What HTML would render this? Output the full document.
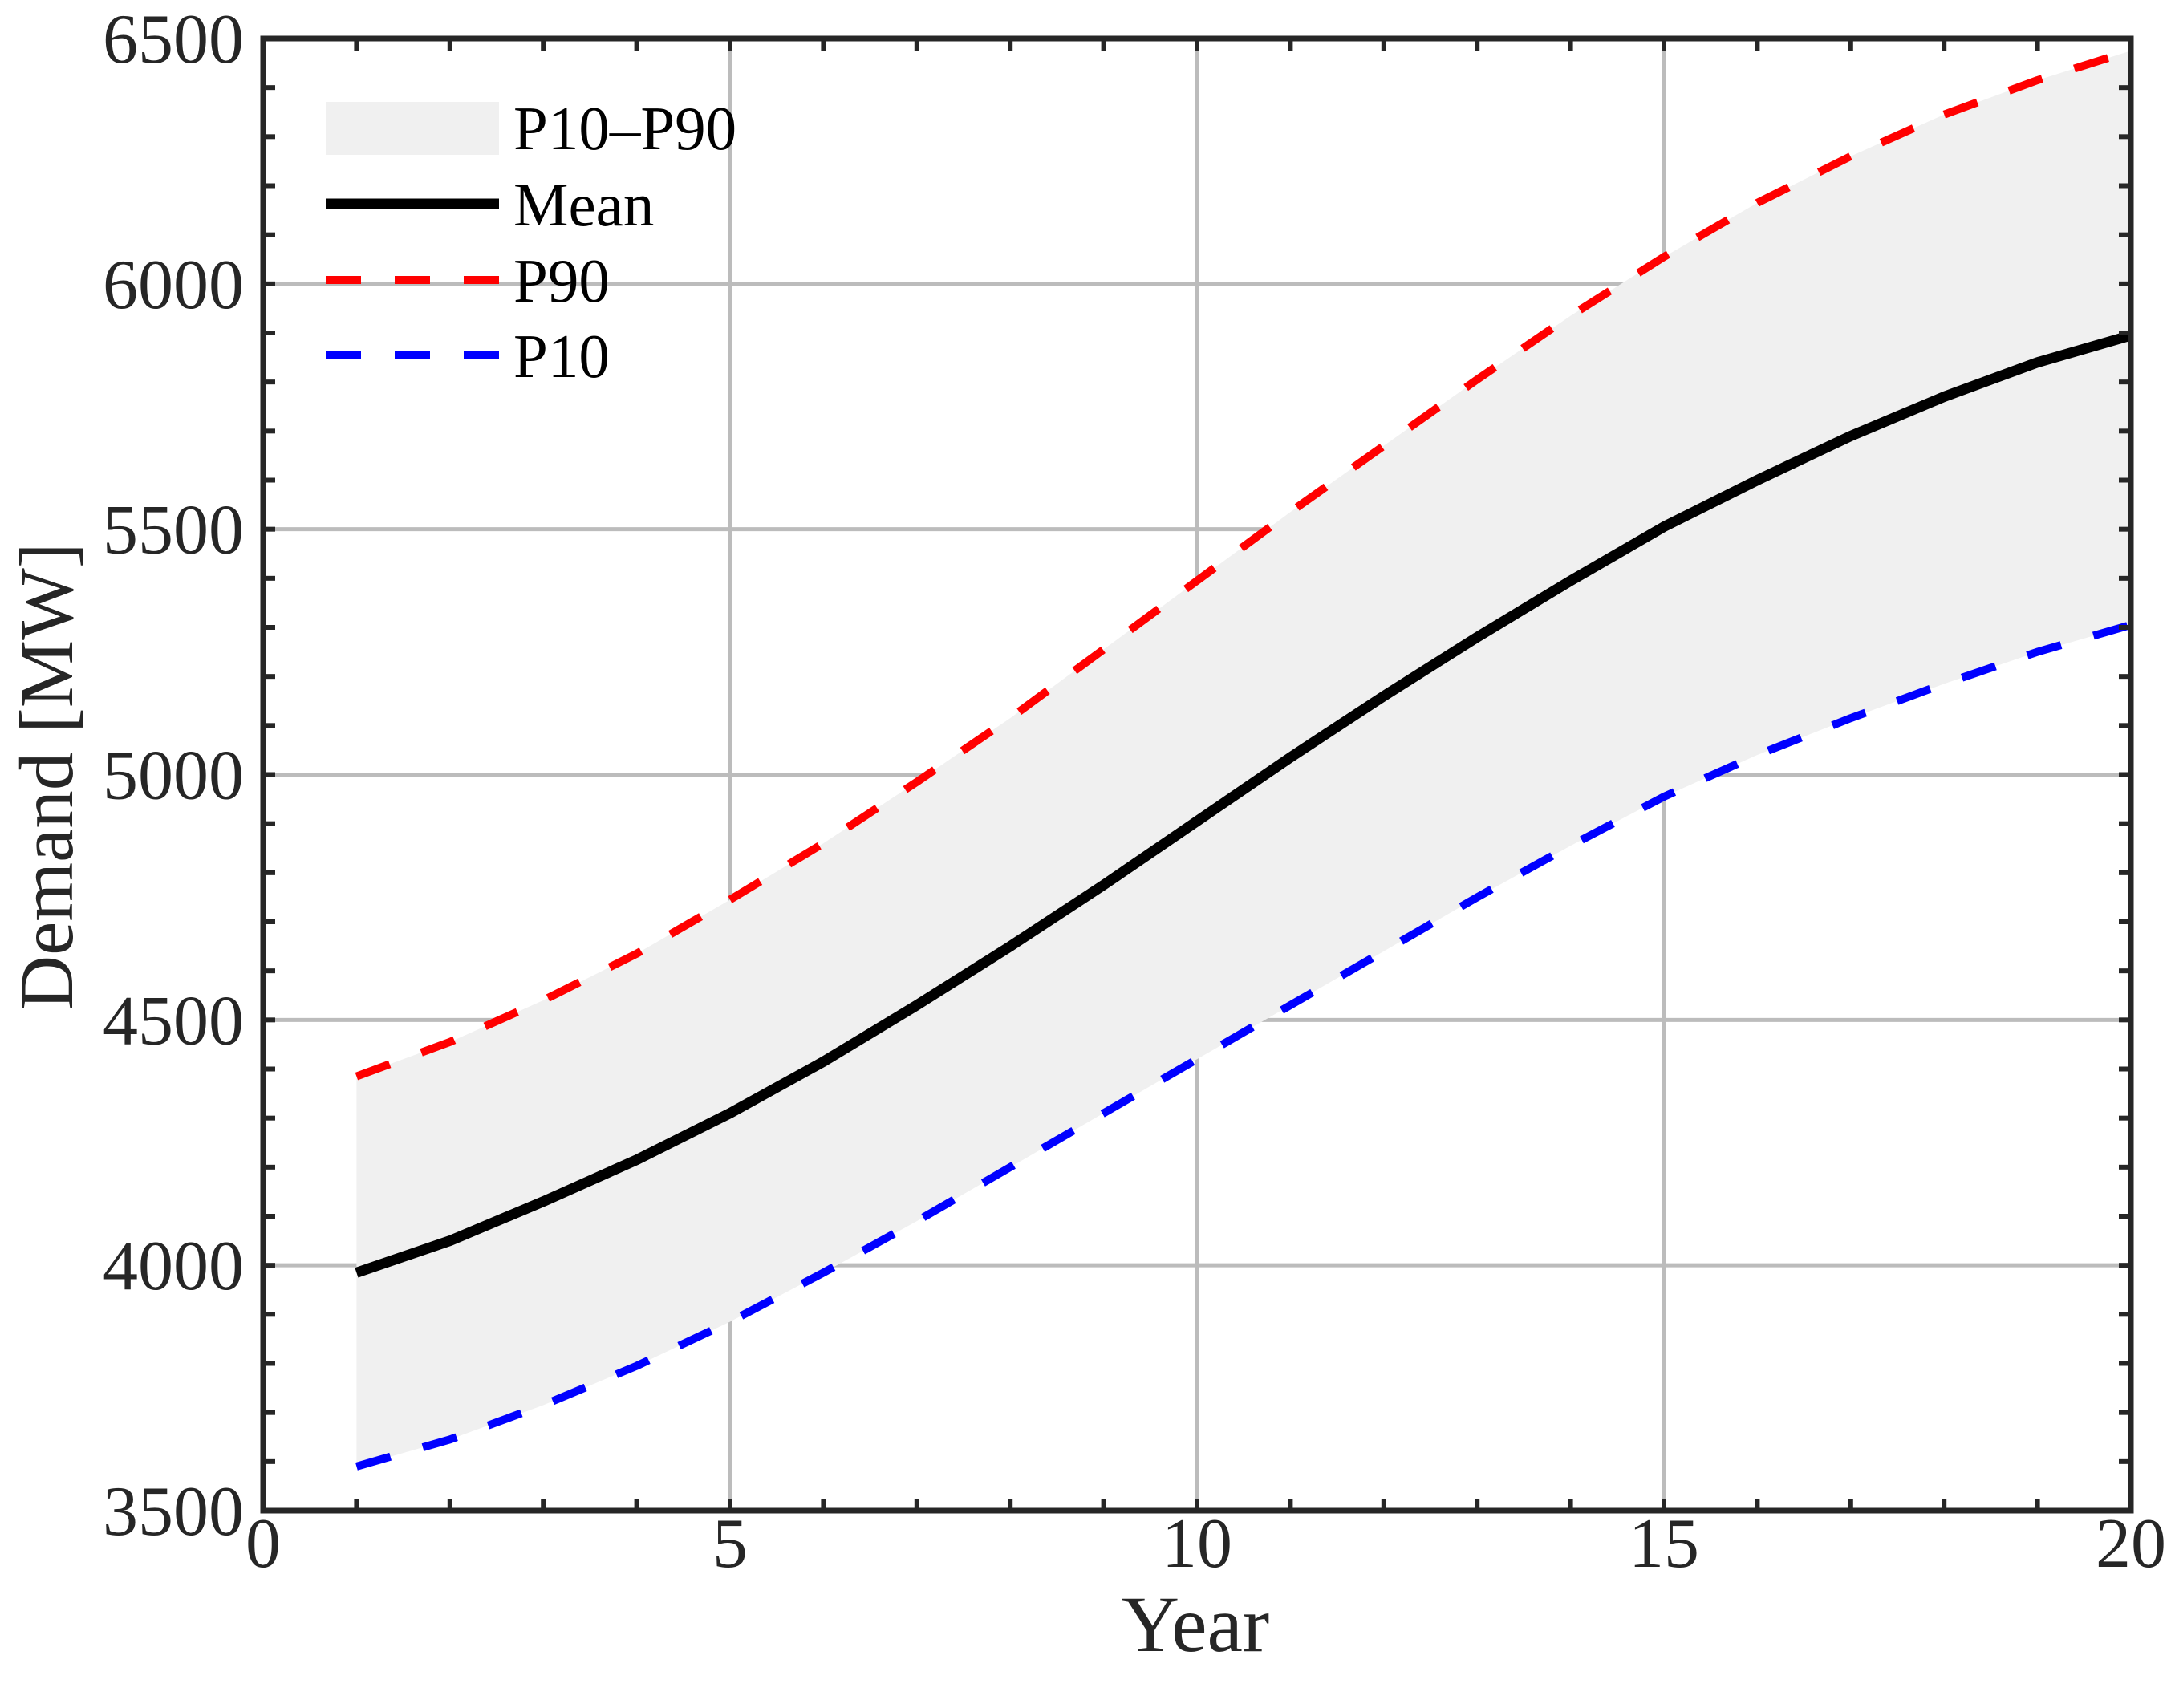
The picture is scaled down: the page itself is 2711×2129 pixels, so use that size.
<!DOCTYPE html>
<html><head><meta charset="utf-8"><style>
html,body{margin:0;padding:0;background:#fff;}
svg{display:block;font-family:"Liberation Serif",serif;}
</style></head><body>
<svg id="chart" width="2711" height="2129" viewBox="0 0 2711 2129" xmlns="http://www.w3.org/2000/svg">
<g id="grid"></g>
<g id="band"></g>
<g id="series"></g>
<g id="axes"></g>
<g id="legend">
  <rect x="406" y="127" width="216" height="66" fill="#f0f0f0"/>
  <text x="640" y="186" font-size="77" fill="#000">P10–P90</text>
  <line x1="406" y1="254" x2="622" y2="254" stroke="#000" stroke-width="13"/>
  <text x="640" y="281" font-size="77" fill="#000">Mean</text>
  <line x1="406" y1="349" x2="622" y2="349" stroke="#ff0000" stroke-width="10" stroke-dasharray="44,42"/>
  <text x="640" y="376" font-size="77" fill="#000">P90</text>
  <line x1="406" y1="443" x2="622" y2="443" stroke="#0000ff" stroke-width="10" stroke-dasharray="44,42"/>
  <text x="640" y="470" font-size="77" fill="#000">P10</text>
</g>
<text x="1490" y="2058" font-size="100" text-anchor="middle" fill="#262626">Year</text>
<text transform="translate(90,968) rotate(-90)" font-size="95" text-anchor="middle" fill="#262626">Demand [MW]</text>
</svg>
<script>
const years = [1,2,3,4,5,6,7,8,9,10,11,12,13,14,15,16,17,18,19,20];
const meanVals = [3985,4050,4130,4215,4310,4415,4530,4650,4775,4905,5035,5160,5280,5395,5505,5600,5690,5770,5840,5895];
const p90Vals = [4385,4455,4540,4635,4745,4860,4985,5115,5255,5395,5535,5670,5805,5935,6055,6165,6260,6345,6415,6475];
const p10Vals = [3590,3645,3715,3795,3885,3985,4090,4200,4310,4420,4530,4640,4750,4855,4955,5040,5115,5185,5250,5305];
const xTicks = [0,5,10,15,20];
const yTicks = [3500,4000,4500,5000,5500,6000,6500];

const L=328,R=2656,T=48,B=1883;
const xMin=0,xMax=20,yMin=3500,yMax=6500;
const sx=v=>L+(v-xMin)/(xMax-xMin)*(R-L);
const sy=v=>B-(v-yMin)/(yMax-yMin)*(B-T);
const NS="http://www.w3.org/2000/svg";
function mk(tag,attrs,parent){const e=document.createElementNS(NS,tag);for(const k in attrs)e.setAttribute(k,attrs[k]);parent.appendChild(e);return e;}
const grid=document.getElementById('grid'),band=document.getElementById('band'),series=document.getElementById('series'),axes=document.getElementById('axes');

xTicks.forEach(v=>{if(v===xMin||v===xMax)return;
  const l=mk('line',{x1:sx(v),x2:sx(v),y1:T,y2:B,stroke:'#bcbcbc','stroke-width':5},grid);
  
  });
yTicks.forEach(v=>{if(v===yMin||v===yMax)return;
  const l=mk('line',{x1:L,x2:R,y1:sy(v),y2:sy(v),stroke:'#bcbcbc','stroke-width':5},grid);
  
  });

let d='';
years.forEach((x,i)=>{d+=(i?'L':'M')+sx(x)+','+sy(p90Vals[i]);});
for(let i=years.length-1;i>=0;i--)d+='L'+sx(years[i])+','+sy(p10Vals[i]);
const bp=mk('path',{d:d+'Z',fill:'#f0f0f0'},band);



function line(vals,color,w,dash,name){
  const pts=years.map((x,i)=>sx(x)+','+sy(vals[i])).join(' ');
  const a={points:pts,fill:'none',stroke:color,'stroke-width':w,'stroke-linejoin':'round'};
  if(dash)a['stroke-dasharray']=dash;
  const p=mk('polyline',a,series);
  
  
}
line(p90Vals,'#ff0000',10,'44,42','p90-line');
line(p10Vals,'#0000ff',10,'44,42','p10-line');
line(meanVals,'#000000',13,null,'mean-line');

const box=mk('rect',{x:L,y:T,width:R-L,height:B-T,fill:'none',stroke:'#262626','stroke-width':7},axes);


for(let v=xMin;v<=xMax;v+=1){
  mk('line',{x1:sx(v),x2:sx(v),y1:B,y2:B-15,stroke:'#262626','stroke-width':6},axes);
  mk('line',{x1:sx(v),x2:sx(v),y1:T,y2:T+15,stroke:'#262626','stroke-width':6},axes);
}
for(let v=yMin;v<=yMax;v+=100){
  mk('line',{x1:L,x2:L+15,y1:sy(v),y2:sy(v),stroke:'#262626','stroke-width':6},axes);
  mk('line',{x1:R,x2:R-15,y1:sy(v),y2:sy(v),stroke:'#262626','stroke-width':6},axes);
}
xTicks.forEach(v=>{
  const t=mk('text',{x:sx(v),y:B+70,'font-size':88,'text-anchor':'middle',fill:'#262626'},axes);
  t.textContent=v;
  
  });
yTicks.forEach(v=>{
  const t=mk('text',{x:L-24,y:sy(v)+30,'font-size':88,'text-anchor':'end',fill:'#262626'},axes);
  t.textContent=v;
  
  });
</script>
</body></html>
